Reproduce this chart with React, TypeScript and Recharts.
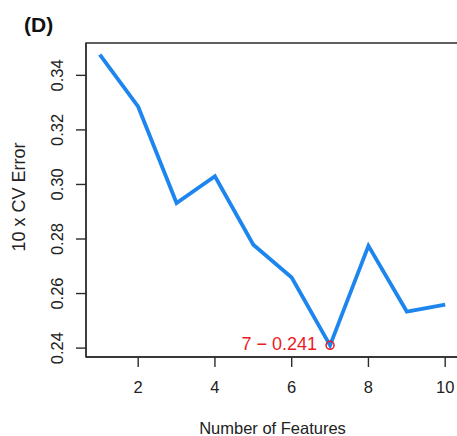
import { LineChart, Line, XAxis, YAxis, ReferenceArea, ReferenceDot, Label } from "recharts";

const features = [1, 2, 3, 4, 5, 6, 7, 8, 9, 10];
const cvErrors = [0.3476, 0.3285, 0.2932, 0.303, 0.2779, 0.2659, 0.241, 0.2775, 0.2534, 0.2559];
const xTicks = [2, 4, 6, 8, 10];
const yTicks = [0.24, 0.26, 0.28, 0.3, 0.32, 0.34];

const data = features.map((f, i) => ({ features: f, error: cvErrors[i] }));

// R-style 4% padding around the data range
const pad = (lo: number, hi: number): [number, number] => {
  const d = (hi - lo) * 0.04;
  return [lo - d, hi + d];
};
const xDomain = pad(Math.min(...features), Math.max(...features));
const yDomain = pad(Math.min(...cvErrors), Math.max(...cvErrors));

const best = cvErrors.indexOf(Math.min(...cvErrors));
const bestLabel = `${features[best]} \u2212 ${cvErrors[best].toFixed(3)}`;

const FONT = "'Liberation Sans', Arial, Helvetica, sans-serif";
const AXIS = "#2b2b2b";
const BLUE = "#1C86EE";
const RED = "#ec1c24";

const YTick = ({ x, y, payload }: any) => (
  <text
    x={x}
    y={y}
    transform={`rotate(-90, ${x}, ${y})`}
    textAnchor="middle"
    fontSize={16.5}
    fontFamily={FONT}
    fill="#222"
  >
    {Number(payload.value).toFixed(2)}
  </text>
);

const XTick = ({ x, y, payload }: any) => (
  <text x={x} y={y} dy="0.71em" textAnchor="middle" fontSize={16.5} fontFamily={FONT} fill="#222">
    {payload.value}
  </text>
);

const App = () => {
  return (
    <div
      style={{
        position: "absolute",
        left: 0,
        top: 0,
        width: 457,
        height: 436,
        overflow: "hidden",
        background: "#fff",
      }}
    >
      <div
        style={{
          position: "absolute",
          left: 24,
          top: 14,
          fontFamily: FONT,
          fontWeight: "bold",
          fontSize: 21,
          lineHeight: "21px",
          color: "#111",
        }}
      >
        (D)
      </div>
      <LineChart width={470} height={436} data={data} margin={{ top: 43, right: 11, bottom: 0, left: 0 }}>
        <XAxis
          dataKey="features"
          type="number"
          domain={xDomain}
          ticks={xTicks}
          allowDataOverflow
          height={79}
          tickSize={10}
          tickMargin={14}
          tick={<XTick />}
          stroke={AXIS}
          strokeWidth={1.4}
        >
          <Label
            content={({ viewBox }: any) => (
              <text
                x={viewBox.x + viewBox.width / 2}
                y={viewBox.y + 77}
                textAnchor="middle"
                fontSize={16.5}
                fontFamily={FONT}
                fill="#222"
              >
                Number of Features
              </text>
            )}
          />
        </XAxis>
        <YAxis
          type="number"
          domain={yDomain}
          ticks={yTicks}
          allowDataOverflow
          width={86}
          tickSize={10}
          tickMargin={13}
          tick={<YTick />}
          stroke={AXIS}
          strokeWidth={1.4}
        >
          <Label
            content={({ viewBox }: any) => {
              const cx = 25;
              const cy = viewBox.y + viewBox.height / 2 - 3;
              return (
                <text
                  x={cx}
                  y={cy}
                  transform={`rotate(-90, ${cx}, ${cy})`}
                  textAnchor="middle"
                  fontSize={18}
                  fontFamily={FONT}
                  fill="#222"
                >
                  10 x CV Error
                </text>
              );
            }}
          />
        </YAxis>
        <ReferenceArea
          x1={xDomain[0]}
          x2={xDomain[1]}
          y1={yDomain[0]}
          y2={yDomain[1]}
          fill="none"
          stroke={AXIS}
          strokeWidth={1.4}
          ifOverflow="visible"
        />
        <Line
          type="linear"
          dataKey="error"
          stroke={BLUE}
          strokeWidth={3.8}
          dot={false}
          activeDot={false}
          isAnimationActive={false}
        />
        <ReferenceDot
          x={features[best]}
          y={cvErrors[best]}
          r={4}
          fill="none"
          stroke={RED}
          strokeWidth={1.5}
          label={{
            content: ({ viewBox }: any) => (
              <text
                x={viewBox.x - 9}
                y={viewBox.y + viewBox.height / 2 + 5}
                textAnchor="end"
                fontSize={18}
                fontFamily={FONT}
                fill={RED}
              >
                {bestLabel}
              </text>
            ),
          }}
        />
      </LineChart>
    </div>
  );
};

export default App;
